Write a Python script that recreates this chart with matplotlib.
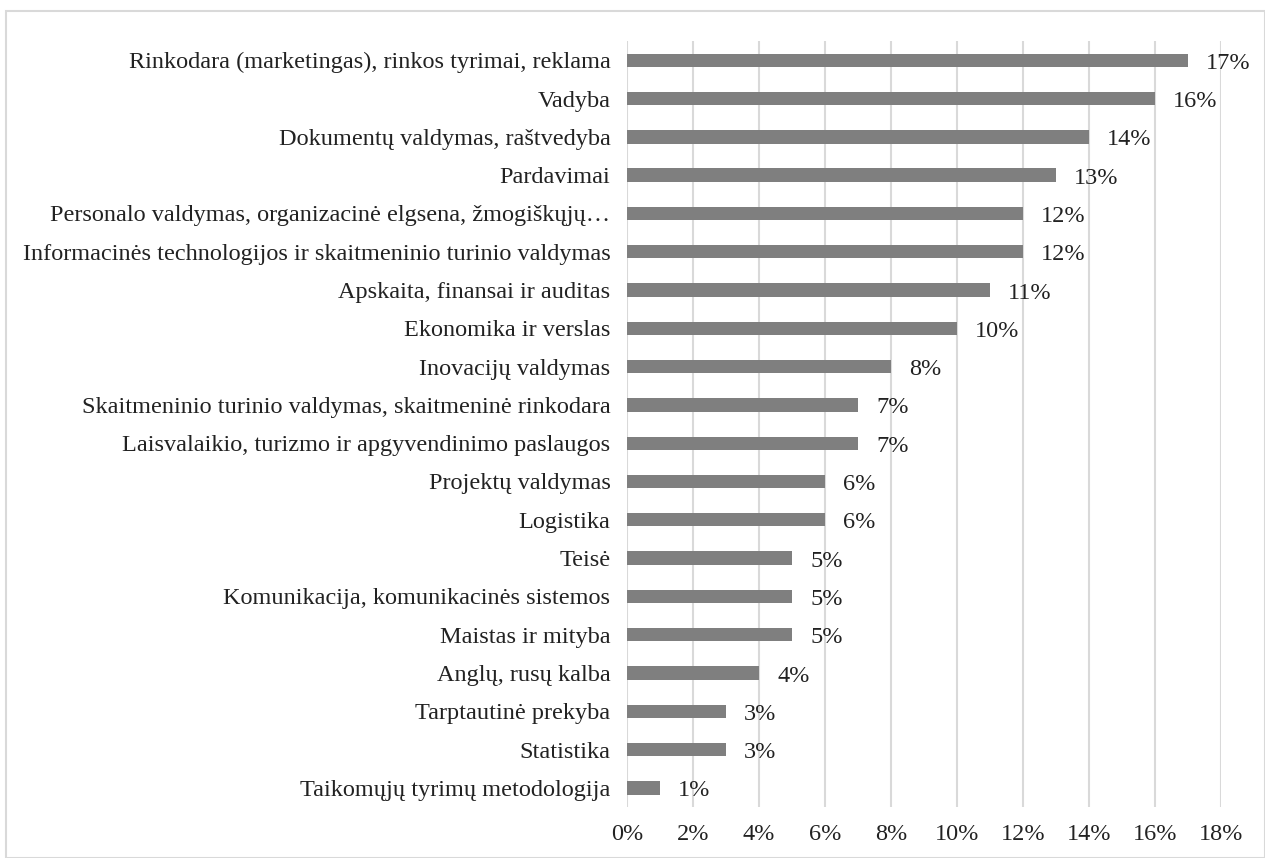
import matplotlib.pyplot as plt
from matplotlib.patches import Rectangle
from matplotlib.ticker import FuncFormatter

plt.rcParams["font.family"] = ["Liberation Serif", "DejaVu Serif"]

categories = [
    "Rinkodara (marketingas), rinkos tyrimai, reklama",
    "Vadyba",
    "Dokumentų valdymas, raštvedyba",
    "Pardavimai",
    "Personalo valdymas, organizacinė elgsena, žmogiškųjų…",
    "Informacinės technologijos ir skaitmeninio turinio valdymas",
    "Apskaita, finansai ir auditas",
    "Ekonomika ir verslas",
    "Inovacijų valdymas",
    "Skaitmeninio turinio valdymas, skaitmeninė rinkodara",
    "Laisvalaikio, turizmo ir apgyvendinimo paslaugos",
    "Projektų valdymas",
    "Logistika",
    "Teisė",
    "Komunikacija, komunikacinės sistemos",
    "Maistas ir mityba",
    "Anglų, rusų kalba",
    "Tarptautinė prekyba",
    "Statistika",
    "Taikomųjų tyrimų metodologija",
]

values = [17, 16, 14, 13, 12, 12, 11, 10, 8, 7, 7, 6, 6, 5, 5, 5, 4, 3, 3, 1]

x_ticks = [0, 2, 4, 6, 8, 10, 12, 14, 16, 18]

FS = 17.5

fig = plt.figure(figsize=(12.65, 8.58), dpi=100)
ax = fig.add_axes([0.4957, 0.0595, 0.4695, 0.8925])

pos = list(range(len(categories)))

ax.barh(pos, values, height=0.35, color="#7f7f7f", zorder=3)

for p, v in zip(pos, values):
    ax.text(v + 0.55, p + 0.08, f"{v}%", va="center", ha="left",
            fontsize=FS, color="#222222")

ax.set_yticks(pos)
ax.set_yticklabels(categories, fontsize=FS, color="#222222")
ax.set_ylim(len(categories) - 0.5, -0.5)

ax.set_xlim(0, 18)
ax.set_xticks(x_ticks)
ax.xaxis.set_major_formatter(FuncFormatter(lambda x, _: f"{x:.0f}%"))
ax.tick_params(axis="x", labelsize=FS, colors="#222222", length=0, pad=12)
ax.tick_params(axis="y", length=0, pad=12)

ax.grid(axis="x", color="#d9d9d9", linewidth=1.5, zorder=0)
for s in ["top", "right", "bottom", "left"]:
    ax.spines[s].set_visible(False)

fig.patches.append(Rectangle((6 / 1265, 0), 1 - 6 / 1265, 1 - 11 / 858,
                             transform=fig.transFigure, fill=False,
                             edgecolor="#d9d9d9", linewidth=1.5))

fig.savefig("out.png", dpi=100, facecolor="white")
